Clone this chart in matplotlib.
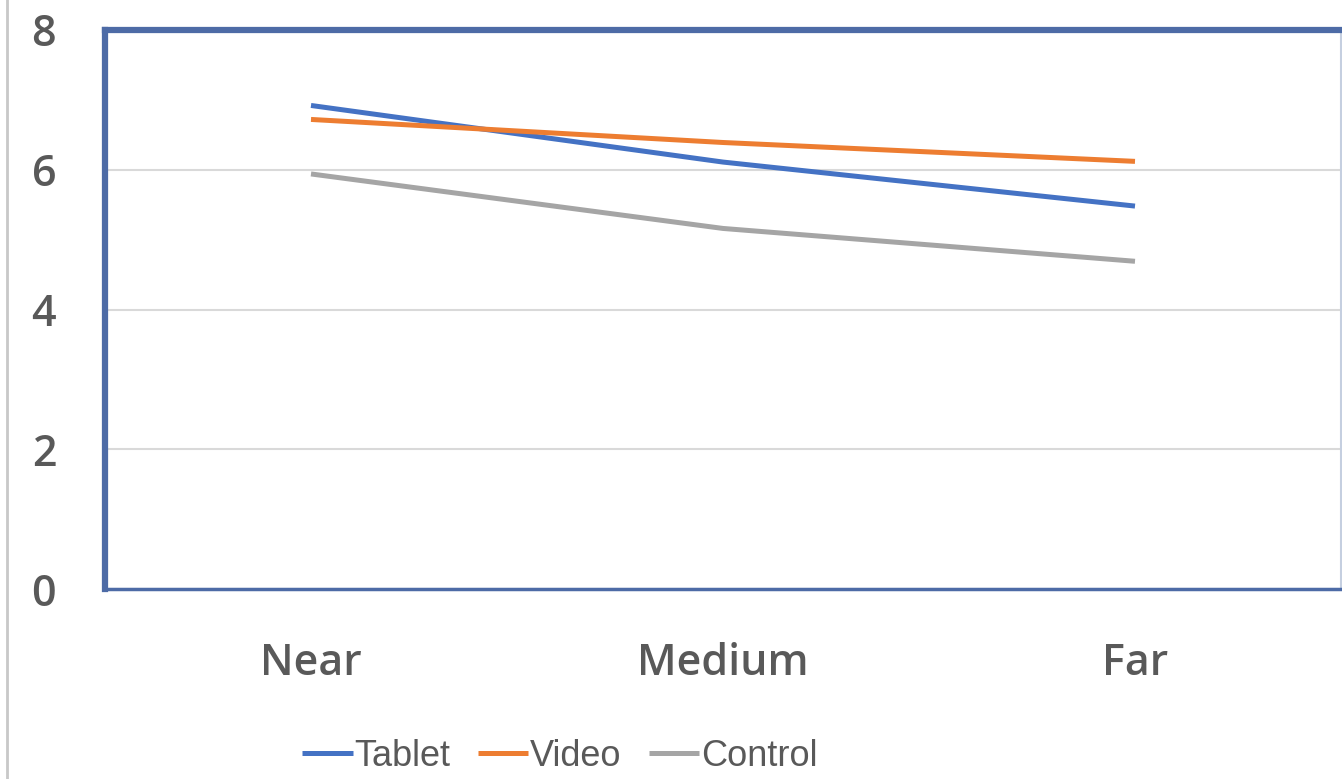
import matplotlib
matplotlib.use("Agg")
import matplotlib.pyplot as plt
from matplotlib.lines import Line2D

categories = ["Near", "Medium", "Far"]
tablet = [6.92, 6.11, 5.48]
video = [6.72, 6.39, 6.12]
control = [5.94, 5.16, 4.69]
series_names = ["Tablet", "Video", "Control"]
y_ticks = [0, 2, 4, 6, 8]

colors = ["#4472C4", "#ED7D31", "#A5A5A5"]
frame_blue = "#4d6ba6"
text_gray = "#595959"

plt.rcParams["font.family"] = ["Open Sans", "DejaVu Sans"]

fig = plt.figure(figsize=(13.42, 7.79), dpi=100)
ax = fig.add_axes([105 / 1342, 1 - 589 / 779, 1236 / 1342, 559 / 779])

xs = range(len(categories))
for vals, name, c in zip([tablet, video, control], series_names, colors):
    ax.plot(xs, vals, color=c, lw=3.6, label=name, solid_capstyle="butt")

ax.set_xlim(-0.5, 2.5)
ax.set_ylim(0, 8)
ax.set_yticks(y_ticks)
ax.set_xticks(list(xs))
ax.set_xticklabels(categories)
ax.yaxis.grid(True, color="#d9d9d9", lw=1.5)
ax.set_axisbelow(True)
ax.tick_params(length=0, labelsize=31, colors=text_gray)
ax.tick_params(axis="y", pad=44)
ax.tick_params(axis="x", pad=38)
for lbl in ax.get_yticklabels() + ax.get_xticklabels():
    lbl.set_fontweight("semibold")
for lbl in ax.get_yticklabels():
    lbl.set_horizontalalignment("center")

ax.spines["left"].set_color(frame_blue)
ax.spines["left"].set_linewidth(4.5)
ax.spines["top"].set_color(frame_blue)
ax.spines["top"].set_linewidth(4.5)
ax.spines["bottom"].set_color(frame_blue)
ax.spines["bottom"].set_linewidth(2.5)
ax.spines["right"].set_color("#c5cfe0")
ax.spines["right"].set_linewidth(1.5)

# outer chart-area border on the left
fig.add_artist(Line2D([7 / 1342, 7 / 1342], [0, 1], transform=fig.transFigure,
                      color="#c8c8c8", lw=2))

leg = fig.legend(loc="center", bbox_to_anchor=(560 / 1342, 1 - 756 / 779), ncol=3,
                 frameon=False, handlelength=1.4, handletextpad=0.05, columnspacing=0.75,
                 prop={"family": "Liberation Sans", "size": 26})
for t in leg.get_texts():
    t.set_color(text_gray)

fig.savefig("out.png", dpi=100)
